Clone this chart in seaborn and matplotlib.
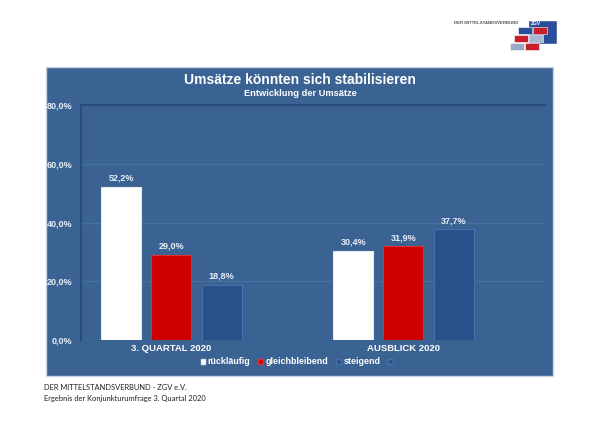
import matplotlib
matplotlib.use("Agg")
import matplotlib.pyplot as plt
import seaborn as sns
import pandas as pd
from matplotlib.patches import Rectangle, Patch
from matplotlib.ticker import FuncFormatter

categories = ["3. QUARTAL 2020", "AUSBLICK 2020"]
series = ["rückläufig", "gleichbleibend", "steigend"]
rueck = [52.2, 30.4]
gleich = [29.0, 31.9]
steig = [18.8, 37.7]
yticks = [0, 20, 40, 60, 80]

rows = []
for name, vals in zip(series, [rueck, gleich, steig]):
    for c, v in zip(categories, vals):
        rows.append({"Kategorie": c, "Serie": name, "Wert": v})
df = pd.DataFrame(rows)

sns.set_theme(style="white")
plt.rcParams["font.family"] = ["Liberation Sans", "DejaVu Sans"]

PANEL = "#3A6393"
colors = ["#FFFFFF", "#CC0000", "#28508A"]
edges = ["#E8E8E8", "#E03030", "#4A70A8"]

fig = plt.figure(figsize=(6, 4.24), dpi=100)
fig.patch.set_facecolor("white")
fig.patches.append(Rectangle((46 / 600, 1 - 376 / 424), 507 / 600, 309 / 424,
                             transform=fig.transFigure, facecolor=PANEL,
                             edgecolor="#C9D6E6", linewidth=1.0, zorder=-10))

ax = fig.add_axes([81 / 600, 1 - 340 / 424, 464 / 600, 235 / 424])
ax.set_zorder(1)
ax.patch.set_alpha(0)

sns.barplot(data=df, x="Kategorie", y="Wert", hue="Serie", order=categories,
            hue_order=series, palette=colors, width=0.647, gap=0.2,
            ax=ax, legend=False, saturation=1)

for i, cont in enumerate(ax.containers):
    for bar in cont:
        bar.set_edgecolor(edges[i])
        bar.set_linewidth(0.8)
        bar.set_zorder(3)
    ax.bar_label(cont, labels=[f"{v:.1f}%".replace(".", ",") for v in cont.datavalues],
                 padding=3, color="#E6EEF8", fontsize=6.5, fontweight="bold")

ax.set_xlim(-0.39, 1.61)
ax.set_ylim(0, 80)
ax.set_yticks(yticks)
ax.yaxis.set_major_formatter(FuncFormatter(lambda v, p: f"{v:.1f}%".replace(".", ",")))
ax.tick_params(axis="y", colors="#E6EEF8", labelsize=6.5, length=0, pad=6)
ax.tick_params(axis="x", colors="white", labelsize=6.8, length=0, pad=3)
for lab in ax.get_yticklabels() + ax.get_xticklabels():
    lab.set_fontweight("bold")
ax.set_xlabel("")
ax.set_ylabel("")

for y in [20, 40, 60]:
    ax.axhline(y, color="#4670A2", linewidth=1.0, zorder=0)
ax.axhline(80, color="#2A4C7A", linewidth=1.6, zorder=0, clip_on=False)
for s in ["top", "right", "bottom"]:
    ax.spines[s].set_visible(False)
ax.spines["left"].set_color("#2A4C7A")
ax.spines["left"].set_linewidth(1.6)

handles = [Patch(facecolor=c, edgecolor=e) for c, e in zip(colors, edges)]
handles.append(Patch(facecolor="#28508A", edgecolor="#4A70A8"))
leg = fig.legend(handles, series + [""], loc="center", bbox_to_anchor=(298 / 600, 1 - 362 / 424),
                 ncol=4, frameon=False, fontsize=6.4, handlelength=0.5, handleheight=0.5,
                 handletextpad=0.3, columnspacing=0.9)
for t in leg.get_texts():
    t.set_color("white")
    t.set_fontweight("bold")

fig.text(0.5, 1 - 80 / 424, "Umsätze könnten sich stabilisieren", ha="center", va="center",
         color="white", fontsize=10, fontweight="bold")
fig.text(0.5, 1 - 93 / 424, "Entwicklung der Umsätze", ha="center", va="center",
         color="white", fontsize=6.7, fontweight="bold")

fig.text(44 / 600, 1 - 387.5 / 424, "DER MITTELSTANDSVERBUND - ZGV e.V.", ha="left", va="center",
         color="#222222", fontsize=5.4, family=["Lato", "DejaVu Sans"])
fig.text(44 / 600, 1 - 398 / 424, "Ergebnis der Konjunkturumfrage 3. Quartal 2020", ha="left",
         va="center", color="#222222", fontsize=5.4, family=["Lato", "DejaVu Sans"])

# logo
fig.text(519 / 600, 1 - 23 / 424, "DER MITTELSTANDSVERBUND", ha="right", va="center",
         color="#555555", fontsize=3.2, fontweight="bold")
fig.patches.append(Rectangle((528 / 600, 1 - 44 / 424), 29 / 600, 24 / 424,
                             transform=fig.transFigure, facecolor="#2B4E9A", zorder=1))
fig.text(531 / 600, 1 - 23.5 / 424, "ZGV", ha="left", va="center", color="white",
         fontsize=3.5, fontweight="bold", zorder=3)
for (x, y, c) in [(518, 27, "#2B4E9A"), (533, 27, "#C8202A"), (514, 35, "#C8202A"),
                  (529, 35, "#A9B6D2"), (510, 43, "#9AA8C8"), (525, 43, "#C8202A")]:
    fig.patches.append(Rectangle((x / 600, 1 - (y + 7) / 424), 14 / 600, 7 / 424,
                                 transform=fig.transFigure, facecolor=c, edgecolor="white",
                                 linewidth=0.4, zorder=2))

fig.savefig("out.png", dpi=100, facecolor="white")
